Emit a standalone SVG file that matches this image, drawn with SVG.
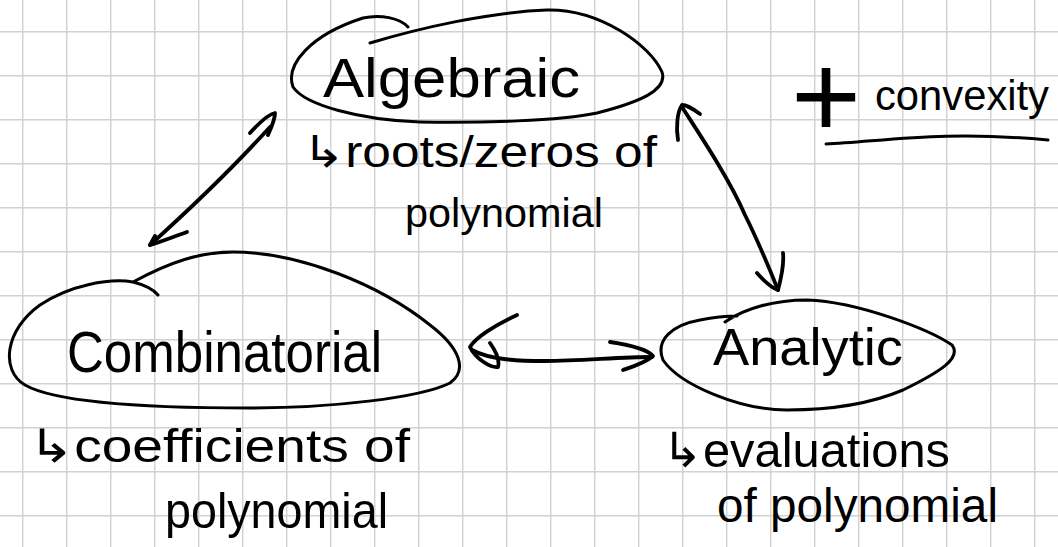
<svg xmlns="http://www.w3.org/2000/svg" width="1058" height="547" viewBox="0 0 1058 547">
  <defs>
    <style>
      .ink { fill: none; stroke: #000; stroke-width: 3; stroke-linecap: round; stroke-linejoin: round; }
      .thick { stroke-width: 3.8; }
      .hand { font-family: "Liberation Sans", "DejaVu Sans", sans-serif; fill: #000; }
    </style>
    <pattern id="grid" patternUnits="userSpaceOnUse" x="0" y="0" width="44" height="44">
      <path d="M 22.7 0 V 44 M 0 31.7 H 44" fill="none" stroke="#d2d2d2" stroke-width="1.5"/>
    </pattern>
  </defs>

  <rect x="0" y="0" width="1058" height="547" fill="#ffffff"/>
  <rect x="0" y="0" width="1058" height="547" fill="url(#grid)"/>

  <g id="algebraic">
    <path class="ink" d="M 370 43 C 420 28, 490 12, 547 10 C 600 9, 650 45, 662 72 C 668 90, 640 102, 597 113 C 560 121, 480 123, 420 122 C 360 120, 305 105, 293 87 C 285 65, 310 35, 363 18 C 380 14, 400 18, 408 27"/>
    <text class="hand" x="323" y="97" font-size="55" textLength="257" lengthAdjust="spacingAndGlyphs">Algebraic</text>
    <text class="hand" x="302" y="167" font-size="44" textLength="355" lengthAdjust="spacingAndGlyphs">↳roots/zeros of</text>
    <text class="hand" x="405" y="227" font-size="40" textLength="198" lengthAdjust="spacingAndGlyphs">polynomial</text>
  </g>

  <g id="combinatorial">
    <path class="ink" d="M 133 282 C 170 262, 200 252, 233 252 C 300 252, 380 285, 430 325 C 460 348, 468 370, 450 383 C 420 398, 330 408, 250 408 C 170 408, 60 405, 25 385 C 0 370, 5 330, 40 305 C 70 285, 110 278, 133 282 C 145 285, 153 289, 158 295"/>
    <text class="hand" x="67" y="372" font-size="58" textLength="315" lengthAdjust="spacingAndGlyphs">Combinatorial</text>
    <text class="hand" x="28" y="462" font-size="46" textLength="382" lengthAdjust="spacingAndGlyphs">↳coefficients of</text>
    <text class="hand" x="165" y="528" font-size="50" textLength="223" lengthAdjust="spacingAndGlyphs">polynomial</text>
  </g>

  <g id="analytic">
    <path class="ink" d="M 725 322 C 745 308, 775 300, 807 300 C 860 302, 930 330, 952 345 C 962 358, 940 372, 903 390 C 870 404, 830 410, 787 410 C 740 410, 680 385, 663 360 C 655 340, 672 325, 700 320 C 715 317, 730 316, 737 316"/>
    <text class="hand" x="713" y="365" font-size="52" textLength="190" lengthAdjust="spacingAndGlyphs">Analytic</text>
    <text class="hand" x="662" y="467" font-size="48" textLength="288" lengthAdjust="spacingAndGlyphs">↳evaluations</text>
    <text class="hand" x="717" y="522" font-size="48" textLength="281" lengthAdjust="spacingAndGlyphs">of polynomial</text>
  </g>

  <g id="note-convexity">
    <text class="hand" x="791" y="138" font-size="120">+</text>
    <text class="hand" x="875" y="110" font-size="43" textLength="174" lengthAdjust="spacingAndGlyphs">convexity</text>
    <path class="ink" stroke-width="4" d="M 826 144 C 880 142, 940 130, 1048 140"/>
  </g>

  <g id="connectors">
    <!-- Algebraic <-> Combinatorial -->
    <path class="ink thick" d="M 270 127 C 240 160, 200 200, 150 245"/>
    <path class="ink thick" d="M 187 232 C 170 238, 160 242, 150 245 L 155 236"/>
    <path class="ink thick" d="M 250 133 C 260 122, 270 114, 275 113 C 275 120, 271 128, 268 135"/>
    <!-- Algebraic <-> Analytic -->
    <path class="ink thick" d="M 682 107 C 700 135, 730 180, 745 215 C 760 245, 770 270, 778 290"/>
    <path class="ink thick" d="M 700 114 C 692 108, 686 105, 682 105 C 677 112, 676 128, 678 140"/>
    <path class="ink thick" d="M 757 273 C 765 282, 772 288, 778 290 C 782 275, 784 262, 783 253"/>
    <!-- Combinatorial <-> Analytic -->
    <path class="ink thick" d="M 517 315 C 495 325, 475 338, 470 347 C 475 358, 490 368, 498 367 C 500 360, 495 350, 490 343"/>
    <path class="ink thick" d="M 472 350 C 490 360, 520 361, 545 361 C 580 361, 620 357, 652 357"/>
    <path class="ink thick" d="M 610 342 C 630 345, 648 350, 653 356 C 645 363, 632 367, 623 370"/>
  </g>
</svg>
